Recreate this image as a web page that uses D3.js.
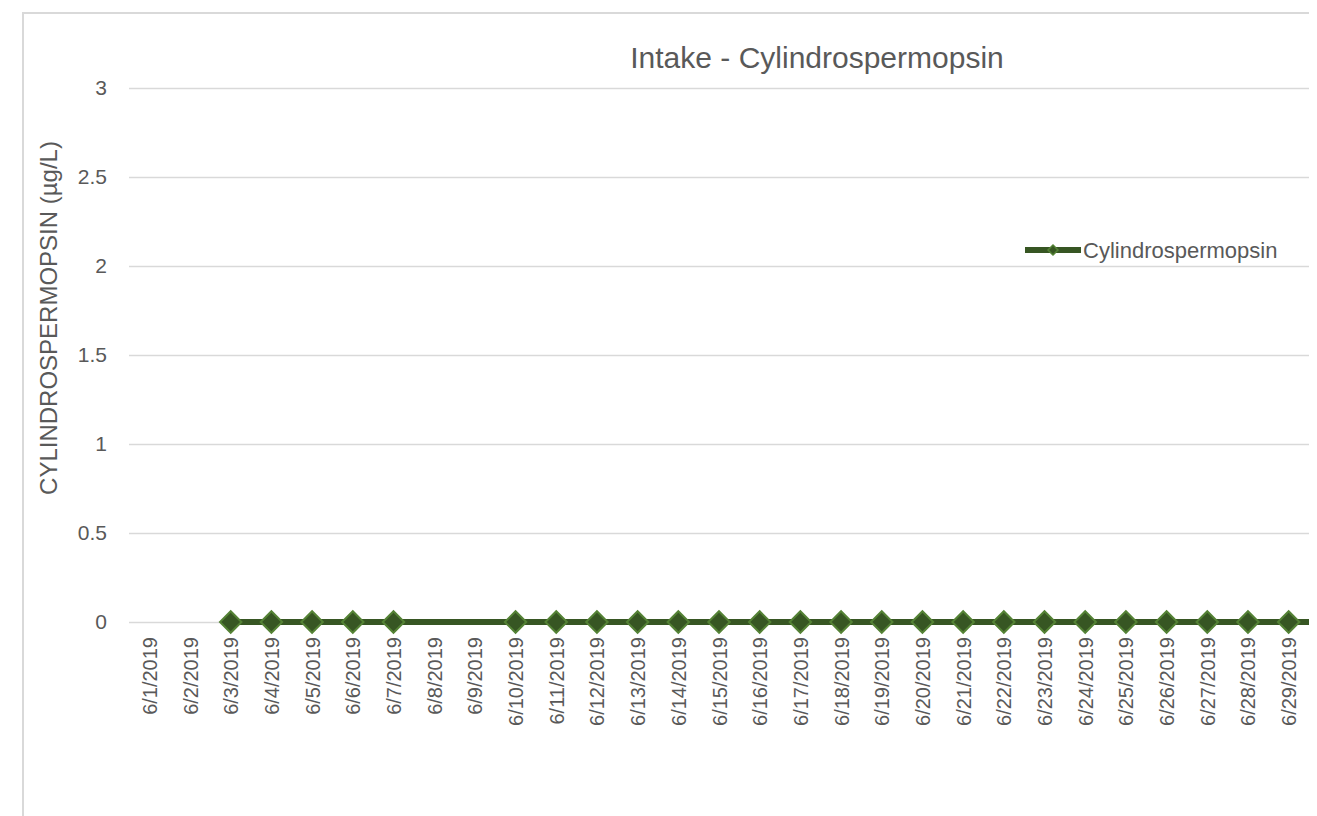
<!DOCTYPE html>
<html>
<head>
<meta charset="utf-8">
<script src="https://cdn.jsdelivr.net/npm/d3@7"></script>
<style>
body { margin: 0; background: #fff; }
</style>
</head>
<body>
<script>
// chart data
var categories = ["6/1/2019", "6/2/2019", "6/3/2019", "6/4/2019", "6/5/2019", "6/6/2019", "6/7/2019",
    "6/8/2019", "6/9/2019", "6/10/2019", "6/11/2019", "6/12/2019", "6/13/2019", "6/14/2019",
    "6/15/2019", "6/16/2019", "6/17/2019", "6/18/2019", "6/19/2019", "6/20/2019", "6/21/2019",
    "6/22/2019", "6/23/2019", "6/24/2019", "6/25/2019", "6/26/2019", "6/27/2019", "6/28/2019",
    "6/29/2019"];
var sampleDates = ["6/3/2019", "6/4/2019", "6/5/2019", "6/6/2019", "6/7/2019",
    "6/10/2019", "6/11/2019", "6/12/2019", "6/13/2019", "6/14/2019", "6/15/2019", "6/16/2019",
    "6/17/2019", "6/18/2019", "6/19/2019", "6/20/2019", "6/21/2019", "6/22/2019", "6/23/2019",
    "6/24/2019", "6/25/2019", "6/26/2019", "6/27/2019", "6/28/2019", "6/29/2019", "6/30/2019"];
var sampleValues = [0, 0, 0, 0, 0,
    0, 0, 0, 0, 0, 0, 0,
    0, 0, 0, 0, 0, 0, 0,
    0, 0, 0, 0, 0, 0, 0];
var yTicks = [0, 0.5, 1, 1.5, 2, 2.5, 3];
var seriesName = "Cylindrospermopsin";

var width = 1317, height = 816;
var plotLeft = 129, plotRight = 1309, plotTop = 88, plotBottom = 622;
var textColor = "#595959";
var gridColor = "#d9d9d9";
var lineColor = "#375623";
var markerEdge = "#548235";
var font = "'Liberation Sans', Arial, sans-serif";

var parse = d3.timeParse("%m/%d/%Y");

var svg = d3.select("body")
    .append("svg")
    .attr("width", width)
    .attr("height", height);

// chart area border (left and top edges only show)
svg.append("path")
    .attr("d", "M23," + height + "V13H1309")
    .attr("fill", "none")
    .attr("stroke", gridColor)
    .attr("stroke-width", 2);

var x = d3.scaleTime()
    .domain([d3.timeHour.offset(parse(categories[0]), -12),
             d3.timeHour.offset(parse(categories[categories.length - 1]), 12)])
    .range([plotLeft, plotRight]);

var y = d3.scaleLinear()
    .domain([0, 3])
    .range([plotBottom, plotTop]);

// y axis with gridlines
var yAxis = svg.append("g")
    .attr("transform", "translate(" + plotLeft + ",0)")
    .call(d3.axisLeft(y)
        .tickValues(yTicks)
        .tickFormat(function(d){ return String(d); })
        .tickSize(-(plotRight - plotLeft))
        .tickPadding(22));
yAxis.select(".domain").remove();
yAxis.selectAll(".tick line")
    .attr("stroke", gridColor)
    .attr("stroke-width", 1.5);
yAxis.selectAll(".tick text")
    .attr("fill", textColor)
    .attr("font-family", font)
    .attr("font-size", "21px");

// x axis, rotated date labels
var xAxis = svg.append("g")
    .attr("transform", "translate(0," + plotBottom + ")")
    .call(d3.axisBottom(x)
        .tickValues(categories.map(parse))
        .tickFormat(d3.timeFormat("%-m/%-d/%Y"))
        .tickSize(0));
xAxis.select(".domain").remove();
xAxis.selectAll(".tick text")
    .attr("fill", textColor)
    .attr("font-family", font)
    .attr("font-size", "20px")
    .attr("text-anchor", "end")
    .attr("transform", "rotate(-90)")
    .attr("x", -15)
    .attr("y", 0)
    .attr("dy", "0.35em");

// series
svg.append("clipPath")
    .attr("id", "plot-clip")
    .append("rect")
    .attr("x", plotLeft)
    .attr("y", plotTop - 20)
    .attr("width", plotRight - plotLeft)
    .attr("height", plotBottom - plotTop + 40);

var points = sampleDates.map(function(d, i){ return {date: parse(d), value: sampleValues[i]}; });

var series = svg.append("g").attr("clip-path", "url(#plot-clip)");

series.append("path")
    .datum(points)
    .attr("d", d3.line()
        .x(function(d){ return x(d.date); })
        .y(function(d){ return y(d.value); }))
    .attr("fill", "none")
    .attr("stroke", lineColor)
    .attr("stroke-width", 6);

var diamond = d3.symbol().type(d3.symbolSquare).size(230);

series.selectAll("path.marker")
    .data(points).enter()
    .append("path")
    .attr("class", "marker")
    .attr("d", diamond)
    .attr("transform", function(d){ return "translate(" + x(d.date) + "," + y(d.value) + ") rotate(45)"; })
    .attr("fill", lineColor)
    .attr("stroke", markerEdge)
    .attr("stroke-width", 2);

// title
svg.append("text")
    .attr("x", 817)
    .attr("y", 57)
    .attr("dy", "0.35em")
    .text("Intake - Cylindrospermopsin")
    .attr("text-anchor", "middle")
    .attr("font-family", font)
    .attr("font-size", "30px")
    .attr("fill", textColor);

// y axis title
svg.append("text")
    .attr("transform", "translate(49,318) rotate(-90)")
    .attr("dy", "0.35em")
    .text("CYLINDROSPERMOPSIN (µg/L)")
    .attr("text-anchor", "middle")
    .attr("font-family", font)
    .attr("font-size", "24px")
    .attr("fill", textColor);

// legend
var legend = svg.append("g").attr("transform", "translate(1025,250)");
legend.append("line")
    .attr("x1", 0)
    .attr("x2", 56)
    .attr("stroke", lineColor)
    .attr("stroke-width", 6);
legend.append("path")
    .attr("d", d3.symbol().type(d3.symbolSquare).size(50))
    .attr("transform", "translate(28,0) rotate(45)")
    .attr("fill", lineColor)
    .attr("stroke", markerEdge)
    .attr("stroke-width", 1.5);
legend.append("text")
    .attr("x", 58)
    .attr("dy", "0.35em")
    .text(seriesName)
    .attr("font-family", font)
    .attr("font-size", "22px")
    .attr("fill", textColor);
</script>
</body>
</html>
